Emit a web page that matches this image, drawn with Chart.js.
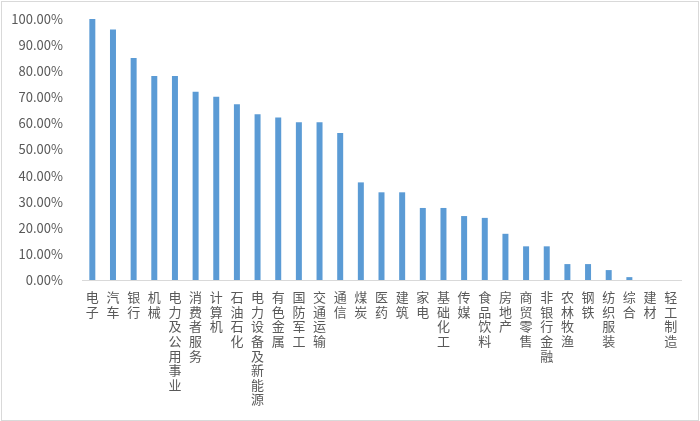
<!DOCTYPE html>
<html>
<head>
<meta charset="utf-8">
<script src="https://cdn.jsdelivr.net/npm/chart.js@4/dist/chart.umd.min.js"></script>
<style>
    body { margin: 0; background: #fff; }
    #wrap { position: relative; width: 700px; height: 421px; }
    #frame { position: absolute; left: 1px; top: 1px; width: 696px; height: 418px; border: 1px solid #d9d9d9; }
</style>
</head>
<body>
<div id="wrap">
    <div id="frame"></div>
    <canvas id="sectorChart"></canvas>
</div>
<script>
// 行业名称
const categories = ['电子', '汽车', '银行', '机械', '电力及公用事业', '消费者服务', '计算机', '石油石化',
    '电力设备及新能源', '有色金属', '国防军工', '交通运输', '通信', '煤炭', '医药', '建筑', '家电',
    '基础化工', '传媒', '食品饮料', '房地产', '商贸零售', '非银行金融', '农林牧渔', '钢铁',
    '纺织服装', '综合', '建材', '轻工制造'];

// 占比 (%)
const values = [100, 96.0, 85.1, 78.2, 78.2, 72.1, 70.2, 67.3,
    63.5, 62.3, 60.4, 60.4, 56.3, 37.4, 33.6, 33.6, 27.6,
    27.6, 24.5, 23.8, 17.7, 12.9, 12.9, 6.1, 6.1,
    3.8, 1.1, 0, 0];

// y轴刻度
const yTicks = [0, 10, 20, 30, 40, 50, 60, 70, 80, 90, 100];

const textColor = '#595959';
const cjkFont = '"Noto Sans CJK SC", "Noto Sans", sans-serif';

// 竖排标签：每个字一行
const labels = categories.map(name => name.split(''));

const ctx = document.getElementById('sectorChart').getContext('2d');
new Chart(ctx, {
    type: 'bar',
    data: {
        labels: labels,
        datasets: [{
            data: values,
            backgroundColor: '#5B9BD5',
            borderWidth: 0,
            categoryPercentage: 1,
            barPercentage: 0.29
        }]
    },
    options: {
        responsive: true,
        maintainAspectRatio: false,
        animation: false,
        layout: {
            padding: { left: 0, right: 19, top: 19, bottom: 0 }
        },
        plugins: {
            legend: { display: false },
            tooltip: { enabled: false }
        },
        scales: {
            x: {
                grid: { display: false },
                border: { color: '#d9d9d9', width: 1 },
                ticks: {
                    color: textColor,
                    autoSkip: false,
                    maxRotation: 0,
                    minRotation: 0,
                    padding: 2,
                    font: { family: cjkFont, size: 13, lineHeight: '14.6px' }
                },
                afterFit(scale) { scale.height = 141; }
            },
            y: {
                min: 0,
                max: 100,
                grid: { display: false },
                border: { display: false },
                afterBuildTicks(scale) {
                    scale.ticks = yTicks.map(v => ({ value: v }));
                },
                ticks: {
                    color: textColor,
                    padding: 11,
                    font: { family: cjkFont, size: 13 },
                    callback: v => v.toFixed(2) + '%'
                },
                afterFit(scale) { scale.width = 82; }
            }
        }
    }
});
</script>
</body>
</html>
